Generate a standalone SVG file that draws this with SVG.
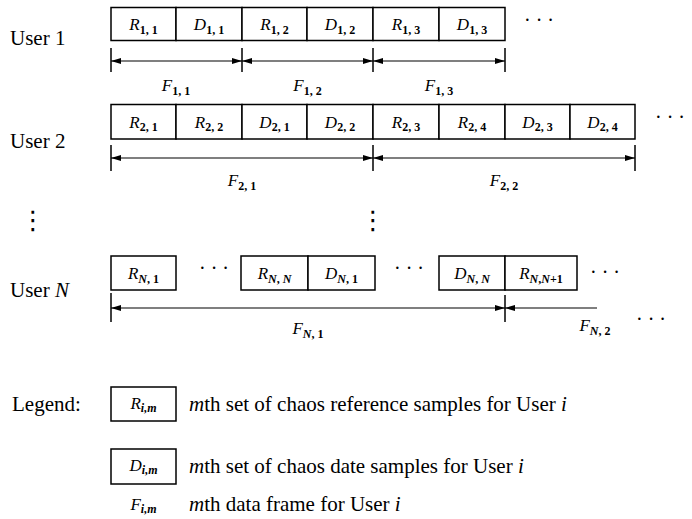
<svg xmlns="http://www.w3.org/2000/svg" width="692" height="519" viewBox="0 0 692 519" font-family="Liberation Serif, DejaVu Serif, serif">
<style>
.bg{fill:#fff}
.box{fill:#fff;stroke:#000;stroke-width:1.5}
.t{font-family:'Liberation Serif','DejaVu Serif',serif;font-size:21px;fill:#000}
.m{font-family:'Liberation Serif','DejaVu Serif',serif;font-style:italic;font-size:17px;text-anchor:middle;fill:#000}
.s{font-size:12px;font-style:normal;font-weight:bold}
.si{font-style:italic}
.dim{stroke:#000;stroke-width:1.2;fill:none;marker-start:url(#ah);marker-end:url(#ah)}
.half{stroke:#000;stroke-width:1.2;fill:none;marker-start:url(#ah)}
.tick{stroke:#000;stroke-width:1.5}
.dots{font-family:'Liberation Serif','DejaVu Serif',serif;font-size:20px;fill:#000}
.vd{font-family:'DejaVu Sans',sans-serif;font-size:26px;text-anchor:middle;fill:#000}
</style>
<defs>
<marker id="ah" viewBox="0 0 10 6" refX="10" refY="3" markerWidth="10" markerHeight="6" markerUnits="userSpaceOnUse" orient="auto-start-reverse">
<path d="M0,0 L10,3 L0,6 z" fill="#000"/>
</marker>
</defs>
<rect class="bg" x="0" y="0" width="692" height="519"/>

<g id="labels-users">
<text class="t" x="10" y="45">User 1</text>
<text class="t" x="10" y="148">User 2</text>
<text class="t" x="10" y="297">User <tspan font-style="italic">N</tspan></text>
<text class="vd" x="33" y="229">⋮</text>
<text class="vd" x="373" y="229">⋮</text>
</g>

<g id="user1">
<rect class="box" x="111" y="7.5" width="65" height="33"/>
<rect class="box" x="176" y="7.5" width="66" height="33"/>
<rect class="box" x="242" y="7.5" width="65" height="33"/>
<rect class="box" x="307" y="7.5" width="66" height="33"/>
<rect class="box" x="373" y="7.5" width="66" height="33"/>
<rect class="box" x="439" y="7.5" width="66" height="33"/>
<text class="m" x="143.5" y="30">R<tspan class="s" dy="3.5">1, 1</tspan></text>
<text class="m" x="209" y="30">D<tspan class="s" dy="3.5">1, 1</tspan></text>
<text class="m" x="274.5" y="30">R<tspan class="s" dy="3.5">1, 2</tspan></text>
<text class="m" x="340" y="30">D<tspan class="s" dy="3.5">1, 2</tspan></text>
<text class="m" x="406" y="30">R<tspan class="s" dy="3.5">1, 3</tspan></text>
<text class="m" x="472" y="30">D<tspan class="s" dy="3.5">1, 3</tspan></text>
<text class="dots" x="524" y="27">· · ·</text>
<text class="m" x="176" y="91">F<tspan class="s" dy="3.5">1, 1</tspan></text>
<text class="m" x="307.5" y="91">F<tspan class="s" dy="3.5">1, 2</tspan></text>
<text class="m" x="439" y="91">F<tspan class="s" dy="3.5">1, 3</tspan></text>
</g>

<g id="user2">
<rect class="box" x="111" y="104.5" width="65" height="34.5"/>
<rect class="box" x="176" y="104.5" width="66" height="34.5"/>
<rect class="box" x="242" y="104.5" width="65" height="34.5"/>
<rect class="box" x="307" y="104.5" width="66" height="34.5"/>
<rect class="box" x="373" y="104.5" width="66" height="34.5"/>
<rect class="box" x="439" y="104.5" width="66" height="34.5"/>
<rect class="box" x="505" y="104.5" width="65" height="34.5"/>
<rect class="box" x="570" y="104.5" width="65" height="34.5"/>
<text class="m" x="143.5" y="127.5">R<tspan class="s" dy="3.5">2, 1</tspan></text>
<text class="m" x="209" y="127.5">R<tspan class="s" dy="3.5">2, 2</tspan></text>
<text class="m" x="274.5" y="127.5">D<tspan class="s" dy="3.5">2, 1</tspan></text>
<text class="m" x="340" y="127.5">D<tspan class="s" dy="3.5">2, 2</tspan></text>
<text class="m" x="406" y="127.5">R<tspan class="s" dy="3.5">2, 3</tspan></text>
<text class="m" x="472" y="127.5">R<tspan class="s" dy="3.5">2, 4</tspan></text>
<text class="m" x="537.5" y="127.5">D<tspan class="s" dy="3.5">2, 3</tspan></text>
<text class="m" x="602.5" y="127.5">D<tspan class="s" dy="3.5">2, 4</tspan></text>
<text class="dots" x="655" y="124">· · ·</text>
<text class="m" x="242" y="186">F<tspan class="s" dy="3.5">2, 1</tspan></text>
<text class="m" x="504" y="186">F<tspan class="s" dy="3.5">2, 2</tspan></text>
</g>

<g id="userN">
<rect class="box" x="111" y="256" width="65" height="34"/>
<rect class="box" x="241" y="256" width="67" height="34"/>
<rect class="box" x="308" y="256" width="67" height="34"/>
<rect class="box" x="439" y="256" width="66" height="34"/>
<rect class="box" x="505" y="256" width="72" height="34"/>
<text class="m" x="143.5" y="279">R<tspan class="s" dy="3.5"><tspan class="si">N</tspan>, 1</tspan></text>
<text class="dots" x="199" y="275">· · ·</text>
<text class="m" x="274.5" y="279">R<tspan class="s" dy="3.5"><tspan class="si">N</tspan>, <tspan class="si">N</tspan></tspan></text>
<text class="m" x="341.5" y="279">D<tspan class="s" dy="3.5"><tspan class="si">N</tspan>, 1</tspan></text>
<text class="dots" x="394" y="275">· · ·</text>
<text class="m" x="472" y="279">D<tspan class="s" dy="3.5"><tspan class="si">N</tspan>, <tspan class="si">N</tspan></tspan></text>
<text class="m" x="541" y="279">R<tspan class="s" dy="3.5"><tspan class="si">N</tspan>,<tspan class="si">N</tspan>+1</tspan></text>
<text class="dots" x="590" y="279">· · ·</text>
<text class="m" x="308" y="334">F<tspan class="s" dy="3.5"><tspan class="si">N</tspan>, 1</tspan></text>
<text class="m" x="595" y="331">F<tspan class="s" dy="3.5"><tspan class="si">N</tspan>, 2</tspan></text>
<text class="dots" x="636" y="326">· · ·</text>
</g>

<g id="connectors">
<line class="tick" x1="111" y1="48" x2="111" y2="72"/>
<line class="tick" x1="242" y1="48" x2="242" y2="72"/>
<line class="tick" x1="373" y1="48" x2="373" y2="72"/>
<line class="tick" x1="505" y1="48" x2="505" y2="72"/>
<line class="dim" x1="111" y1="61" x2="242" y2="61"/>
<line class="dim" x1="242" y1="61" x2="373" y2="61"/>
<line class="dim" x1="373" y1="61" x2="505" y2="61"/>

<line class="tick" x1="111" y1="145" x2="111" y2="171"/>
<line class="tick" x1="373" y1="145" x2="373" y2="171"/>
<line class="tick" x1="635" y1="145" x2="635" y2="171"/>
<line class="dim" x1="111" y1="158" x2="373" y2="158"/>
<line class="dim" x1="373" y1="158" x2="635" y2="158"/>

<line class="tick" x1="111" y1="293" x2="111" y2="322"/>
<line class="tick" x1="505" y1="295" x2="505" y2="322"/>
<line class="dim" x1="111" y1="308" x2="505" y2="308"/>
<line class="half" x1="505" y1="308" x2="597" y2="308"/>
</g>

<g id="legend">
<text class="t" x="12" y="411">Legend:</text>
<rect class="box" x="111" y="387" width="65" height="34"/>
<text class="m" x="143.5" y="409">R<tspan class="s si" dy="3">i,m</tspan></text>
<text class="t" x="189" y="411"><tspan font-style="italic">m</tspan>th set of chaos reference samples for User <tspan font-style="italic">i</tspan></text>
<rect class="box" x="111" y="449" width="65" height="35"/>
<text class="m" x="143.5" y="471">D<tspan class="s si" dy="3">i,m</tspan></text>
<text class="t" x="189" y="473"><tspan font-style="italic">m</tspan>th set of chaos date samples for User <tspan font-style="italic">i</tspan></text>
<text class="m" x="143.5" y="510">F<tspan class="s si" dy="3">i,m</tspan></text>
<text class="t" x="189" y="511"><tspan font-style="italic">m</tspan>th data frame for User <tspan font-style="italic">i</tspan></text>
</g>
</svg>
